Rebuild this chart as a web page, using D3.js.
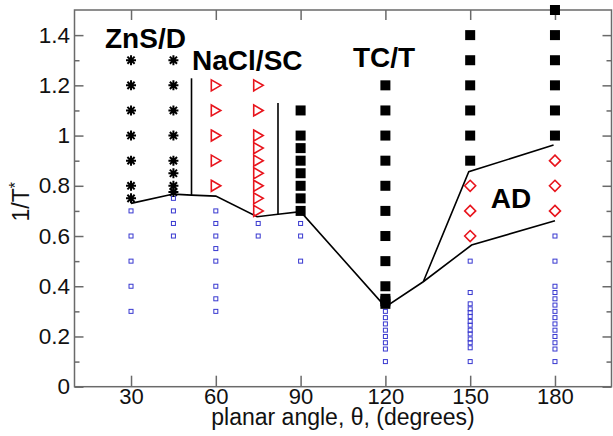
<!DOCTYPE html>
<html>
<head>
<meta charset="utf-8">
<script src="https://cdn.jsdelivr.net/npm/d3@7"></script>
<style>
  html, body { margin: 0; padding: 0; background: #fff; }
  svg { display: block; }
</style>
</head>
<body>
<svg id="chart" width="613" height="436"></svg>
<script>
// ---------------- data ----------------
const xTicks = [30, 60, 90, 120, 150, 180];
const yTicks = [0, 0.2, 0.4, 0.6, 0.8, 1, 1.2, 1.4];
const yMinorTicks = [0.1, 0.3, 0.5, 0.7, 0.9, 1.1, 1.3];

// ZnS/D (asterisks)
const asteriskData = [
  [30, [1.3, 1.2, 1.1, 1.0, 0.9, 0.8, 0.75]],
  [45, [1.3, 1.2, 1.1, 1.0, 0.9, 0.85, 0.8, 0.775]]
];
// NaCl/SC (red open triangles)
const triangleData = [
  [60, [1.2, 1.1, 1.0, 0.9, 0.8]],
  [75, [1.2, 1.1, 1.0, 0.95, 0.9, 0.85, 0.8, 0.75, 0.7]]
];
// TC/T (black filled squares)
const squareData = [
  [90, [1.1, 1.0, 0.95, 0.9, 0.85, 0.8, 0.75, 0.7]],
  [120, [1.2, 1.1, 1.0, 0.9, 0.8, 0.7, 0.6, 0.5, 0.4, 0.35, 0.34, 0.33]],
  [150, [1.4, 1.3, 1.2, 1.1, 1.0, 0.9]],
  [180, [1.5, 1.4, 1.3, 1.2, 1.1, 1.0]]
];
// AD (red open diamonds)
const diamondData = [
  [150, [0.8, 0.7, 0.6]],
  [180, [0.9, 0.8, 0.7]]
];
// fluid (small blue open squares)
const fluidData = [
  [30, [0.7, 0.6, 0.5, 0.4, 0.3]],
  [45, [0.75, 0.7, 0.65, 0.6]],
  [60, [0.7, 0.65, 0.6, 0.55, 0.5, 0.4, 0.35, 0.3]],
  [75, [0.65, 0.6]],
  [90, [0.65, 0.6, 0.5]],
  [120, [0.3, 0.275, 0.25, 0.225, 0.2, 0.175, 0.15, 0.1]],
  [150, [0.5, 0.375, 0.33, 0.31, 0.295, 0.28, 0.26, 0.245, 0.225, 0.21, 0.19, 0.175, 0.155, 0.1]],
  [180, [0.6, 0.5, 0.4, 0.375, 0.35, 0.325, 0.3, 0.275, 0.25, 0.225, 0.2, 0.175, 0.15, 0.1]]
];
// phase boundaries
const boundaryMain = [[30, 0.73], [45, 0.767], [51.4, 0.763], [60, 0.759], [74.6, 0.677],
  [82, 0.687], [90, 0.697], [120, 0.318], [133.4, 0.418], [150.5, 0.564], [180, 0.661]];
const boundaryZnS = [[51.4, 0.763], [51.4, 1.228]];
const boundaryNaCl = [[82, 0.687], [82, 1.13]];
const boundaryAD = [[133.4, 0.418], [149.5, 0.856], [179.5, 0.962]];

const phaseLabels = [
  {text: "ZnS/D", x: 20.8, y: 1.349},
  {text: "NaCl/SC", x: 51.6, y: 1.261},
  {text: "TC/T", x: 108.5, y: 1.273},
  {text: "AD", x: 157.3, y: 0.712}
];

// ---------------- layout ----------------
const svg = d3.select("#chart");
const L = 74.5, R = 611.5, T = 10, B = 386.7;
const x = d3.scaleLinear().domain([10, 200]).range([L, R]);
const y = d3.scaleLinear().domain([0, 1.5]).range([B, T]);
const frameColor = "#6a6a6a";
const font = "'Liberation Sans', Arial, Helvetica, sans-serif";

// ticks
function tickAxis(axisGen, transform) {
  const g = svg.append("g").attr("transform", transform).call(axisGen);
  g.select(".domain").remove();
  g.selectAll("line").attr("stroke", frameColor).attr("stroke-width", 1.5);
  return g;
}
// bottom (inward, labels outside)
const gb = tickAxis(d3.axisBottom(x).tickValues(xTicks).tickSizeInner(-11).tickPadding(2).tickFormat(d3.format("d")), `translate(0,${B})`);
gb.selectAll("text").attr("font-family", font).attr("font-size", 22).attr("fill", "#111");
// top
tickAxis(d3.axisTop(x).tickValues(xTicks).tickSizeInner(-10).tickFormat(""), `translate(0,${T})`);
// left major
const gl = tickAxis(d3.axisLeft(y).tickValues(yTicks).tickSizeInner(-9).tickPadding(4.5).tickFormat(d => d3.format("")(+d.toFixed(1))), `translate(${L},0)`);
gl.selectAll("text").attr("font-family", font).attr("font-size", 22.5).attr("fill", "#111");
// left minor
tickAxis(d3.axisLeft(y).tickValues(yMinorTicks).tickSizeInner(-5).tickFormat(""), `translate(${L},0)`);
// right
tickAxis(d3.axisRight(y).tickValues(yTicks).tickSizeInner(-9).tickFormat(""), `translate(${R},0)`);
tickAxis(d3.axisRight(y).tickValues(yMinorTicks).tickSizeInner(-5).tickFormat(""), `translate(${R},0)`);

// frame
svg.append("rect").attr("x", L).attr("y", T).attr("width", R - L).attr("height", B - T)
  .attr("fill", "none").attr("stroke", frameColor).attr("stroke-width", 1.5);

// axis titles
svg.append("text").attr("x", (L + R) / 2).attr("y", 425).attr("text-anchor", "middle")
  .attr("font-family", font).attr("font-size", 23).attr("fill", "#111")
  .text("planar angle, θ, (degrees)");
const yl = svg.append("text").attr("transform", `translate(29,${(y(0.8) + 16)}) rotate(-90)`)
  .attr("text-anchor", "middle").attr("font-family", font).attr("font-size", 23).attr("fill", "#111");
yl.append("tspan").text("1/T");
yl.append("tspan").attr("baseline-shift", "super").attr("font-size", 16).text("*");

// boundaries
const line = d3.line().x(d => x(d[0])).y(d => y(d[1]));
[boundaryMain, boundaryZnS, boundaryNaCl, boundaryAD].forEach(b => {
  svg.append("path").attr("d", line(b)).attr("fill", "none").attr("stroke", "#000").attr("stroke-width", 1.6);
});

function flatten(groups) {
  const out = [];
  groups.forEach(([xv, ys]) => ys.forEach(yv => out.push({x: xv, y: yv})));
  return out;
}

// fluid small blue squares
svg.append("g").selectAll("rect").data(flatten(fluidData)).join("rect")
  .attr("x", d => x(d.x) - 2).attr("y", d => y(d.y) - 2).attr("width", 4).attr("height", 4)
  .attr("fill", "none").attr("stroke", "#3838d0").attr("stroke-width", 1);

// black squares
svg.append("g").selectAll("rect").data(flatten(squareData)).join("rect")
  .attr("x", d => x(d.x) - 5).attr("y", d => y(d.y) - 5).attr("width", 10).attr("height", 10)
  .attr("fill", "#000");

// triangles (right pointing)
svg.append("g").selectAll("path").data(flatten(triangleData)).join("path")
  .attr("d", d => { const cx = x(d.x), cy = y(d.y); return `M${cx - 4.5},${cy - 5.5}L${cx + 5},${cy}L${cx - 4.5},${cy + 5.5}Z`; })
  .attr("fill", "none").attr("stroke", "#e8141c").attr("stroke-width", 1.6);

// diamonds
svg.append("g").selectAll("path").data(flatten(diamondData)).join("path")
  .attr("d", d => { const cx = x(d.x), cy = y(d.y), r = 5.5; return `M${cx},${cy - r}L${cx + r},${cy}L${cx},${cy + r}L${cx - r},${cy}Z`; })
  .attr("fill", "none").attr("stroke", "#e8141c").attr("stroke-width", 1.6);

// asterisks
svg.append("g").selectAll("path").data(flatten(asteriskData)).join("path")
  .attr("d", d => {
    const cx = x(d.x), cy = y(d.y), r = 5, q = 3.6;
    return `M${cx - r},${cy}L${cx + r},${cy}M${cx},${cy - r}L${cx},${cy + r}` +
           `M${cx - q},${cy - q}L${cx + q},${cy + q}M${cx - q},${cy + q}L${cx + q},${cy - q}`;
  })
  .attr("fill", "none").attr("stroke", "#000").attr("stroke-width", 2);

// phase labels
svg.append("g").selectAll("text").data(phaseLabels).join("text")
  .attr("x", d => x(d.x)).attr("y", d => y(d.y))
  .attr("font-family", font).attr("font-weight", "bold").attr("font-size", 28).attr("fill", "#000")
  .text(d => d.text);
</script>
</body>
</html>
